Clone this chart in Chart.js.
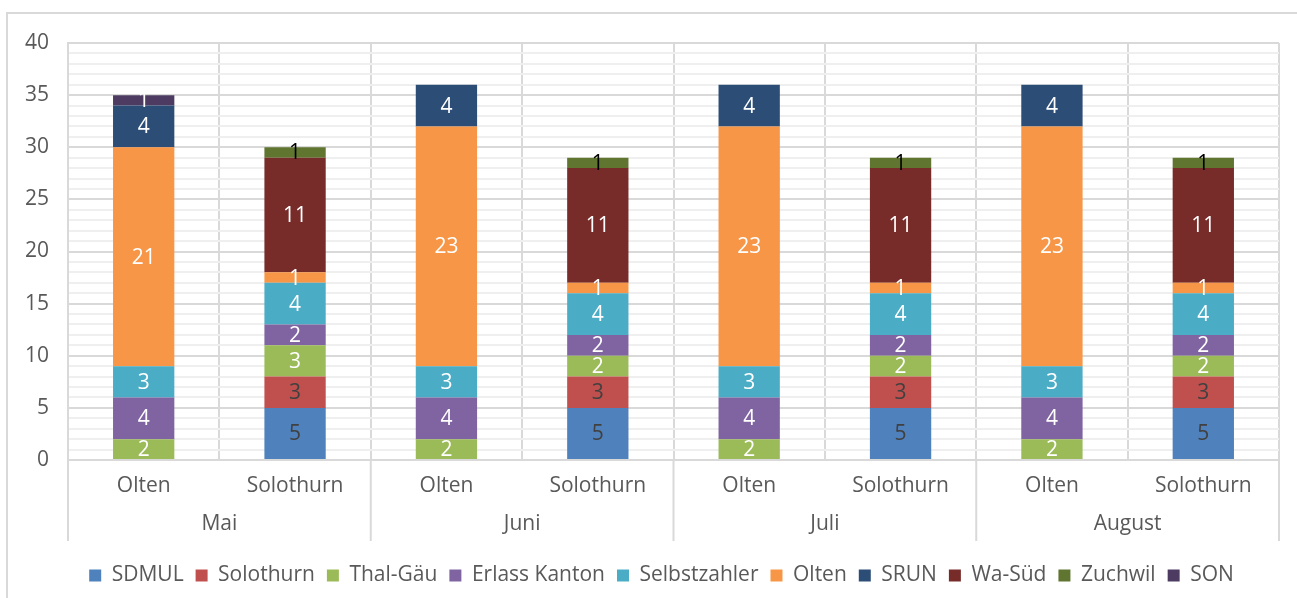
<!DOCTYPE html>
<html>
<head>
<meta charset="utf-8">
<script src="https://cdn.jsdelivr.net/npm/chart.js@4.4.0/dist/chart.umd.min.js"></script>
<style>
  html, body { margin: 0; padding: 0; background: #fff; overflow: hidden; }
  #frame { position: absolute; left: 6px; top: 12px; width: 1400px; height: 700px; border: 2px solid #d9d9d9; }
  #chart { position: absolute; left: 0; top: 0; }
</style>
</head>
<body>
<div id="frame"></div>
<canvas id="chart" width="1297" height="598"></canvas>
<script>
// categories
const months = ['Mai', 'Juni', 'Juli', 'August'];
const locations = ['Olten', 'Solothurn'];
const yTicks = [0, 5, 10, 15, 20, 25, 30, 35, 40];

// series values, one entry per month/location (Olten, Solothurn, ...)
const sdmul        = [null, 5, null, 5, null, 5, null, 5];
const solothurn    = [null, 3, null, 3, null, 3, null, 3];
const thalGaeu     = [2, 3, 2, 2, 2, 2, 2, 2];
const erlassKanton = [4, 2, 4, 2, 4, 2, 4, 2];
const selbstzahler = [3, 4, 3, 4, 3, 4, 3, 4];
const olten        = [21, 1, 23, 1, 23, 1, 23, 1];
const srun         = [4, null, 4, null, 4, null, 4, null];
const waSued       = [null, 11, null, 11, null, 11, null, 11];
const zuchwil      = [null, 1, null, 1, null, 1, null, 1];
const son          = [1, null, null, null, null, null, null, null];

const labels = [];
months.forEach(function(m) {
	locations.forEach(function(l) { labels.push(l); });
});

const FONT = '"Open Sans", sans-serif';
const GREY = '#595959';
const LINE = '#d9d9d9';

const series = [
	{ label: 'SDMUL',         data: sdmul,        color: '#4f81bd', text: '#404040' },
	{ label: 'Solothurn',     data: solothurn,    color: '#c0504d', text: '#404040' },
	{ label: 'Thal-Gäu',      data: thalGaeu,     color: '#9bbb59', text: '#ffffff' },
	{ label: 'Erlass Kanton', data: erlassKanton, color: '#8064a2', text: '#ffffff' },
	{ label: 'Selbstzahler',  data: selbstzahler, color: '#4bacc6', text: '#ffffff' },
	{ label: 'Olten',         data: olten,        color: '#f79646', text: '#ffffff' },
	{ label: 'SRUN',          data: srun,         color: '#2c4d75', text: '#ffffff' },
	{ label: 'Wa-Süd',        data: waSued,       color: '#772c2a', text: '#ffffff' },
	{ label: 'Zuchwil',       data: zuchwil,      color: '#5f7530', text: '#000000' },
	{ label: 'SON',           data: son,          color: '#4d3b62', text: '#ffffff' }
];

// value labels in the middle of each segment
const barLabels = {
	id: 'barLabels',
	afterDatasetsDraw(chart) {
		const ctx = chart.ctx;
		ctx.save();
		ctx.font = '21px ' + FONT;
		ctx.textAlign = 'center';
		ctx.textBaseline = 'middle';
		chart.data.datasets.forEach(function(ds, i) {
			const meta = chart.getDatasetMeta(i);
			meta.data.forEach(function(bar, j) {
				const v = ds.data[j];
				if (!v) return;
				const p = bar.getProps(['x', 'y', 'base'], true);
				ctx.fillStyle = series[i].text;
				ctx.fillText(String(v), p.x, (p.y + p.base) / 2 + 1);
			});
		});
		ctx.restore();
	}
};

// month row under the location labels
const monthGroups = {
	id: 'monthGroups',
	afterLayout(chart) {
		// legend in the reference sits a bit right of centre
		chart.legend.left += 22;
		chart.legend.right += 22;
	},
	afterDraw(chart) {
		const x = chart.scales.x;
		const area = chart.chartArea;
		const ctx = chart.ctx;
		const half = (x.getPixelForValue(1) - x.getPixelForValue(0)) / 2;
		const n = locations.length;
		ctx.save();
		ctx.strokeStyle = LINE;
		ctx.lineWidth = 2;
		for (let g = 0; g <= months.length; g++) {
			const px = x.getPixelForValue(g * n) - half;
			ctx.beginPath();
			ctx.moveTo(px, area.bottom);
			ctx.lineTo(px, area.bottom + 81);
			ctx.stroke();
		}
		ctx.fillStyle = GREY;
		ctx.font = '21px ' + FONT;
		ctx.textAlign = 'center';
		ctx.textBaseline = 'middle';
		months.forEach(function(m, g) {
			const cx = (x.getPixelForValue(g * n) + x.getPixelForValue(g * n + n - 1)) / 2;
			ctx.fillText(m, cx, area.bottom + 64);
		});
		ctx.restore();
	}
};

Chart.defaults.font.family = FONT;
Chart.defaults.color = GREY;

new Chart(document.getElementById('chart'), {
	type: 'bar',
	data: {
		labels: labels,
		datasets: series.map(function(s) {
			return {
				label: s.label,
				data: s.data,
				backgroundColor: s.color,
				borderWidth: 0,
				categoryPercentage: 1,
				barPercentage: 0.405
			};
		})
	},
	options: {
		responsive: false,
		animation: false,
		layout: { padding: { top: 43, right: 18, left: 0, bottom: 2 } },
		plugins: {
			legend: {
				position: 'bottom',
				labels: {
					boxWidth: 12,
					boxHeight: 12,
					padding: 12,
					color: GREY,
					font: { size: 21 }
				}
			},
			tooltip: { enabled: false }
		},
		scales: {
			x: {
				stacked: true,
				grid: { color: LINE, lineWidth: 2, drawTicks: false, offset: true },
				border: { color: LINE, width: 2 },
				ticks: { padding: 13, font: { size: 21 }, color: GREY, maxRotation: 0 },
				afterFit: function(scale) { scale.height = 93; }
			},
			y: {
				stacked: true,
				min: 0,
				max: 40,
				grid: {
					drawTicks: false,
					color: function(c) { return c.tick.value % 5 === 0 ? LINE : '#efefef'; },
					lineWidth: 2
				},
				border: { color: LINE, width: 2 },
				ticks: {
					stepSize: 1,
					autoSkip: false,
					padding: 19,
					font: { size: 21 },
					color: GREY,
					callback: function(v) { return yTicks.indexOf(v) >= 0 ? v : ''; }
				},
				afterFit: function(scale) { scale.width = 68; }
			}
		}
	},
	plugins: [barLabels, monthGroups]
});
</script>
</body>
</html>
